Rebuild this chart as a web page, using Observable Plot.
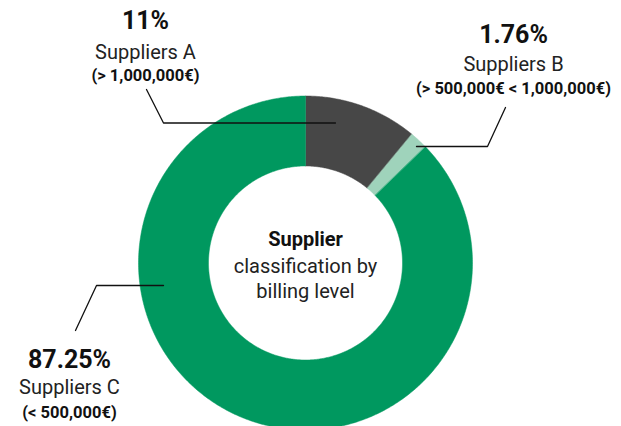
<!DOCTYPE html>
<html>
<head>
<meta charset="utf-8">
<script src="https://cdn.jsdelivr.net/npm/d3@7"></script>
<script src="https://cdn.jsdelivr.net/npm/@observablehq/plot@0.6"></script>
<style>
  html, body { margin: 0; padding: 0; background: #fff; }
  #chart svg { display: block; font-family: Roboto, "Noto Sans", sans-serif; }
</style>
</head>
<body>
<div id="chart"></div>
<script>
// ---- data ----
const categories = ["Suppliers A", "Suppliers B", "Suppliers C"];
const shares = [11, 1.76, 87.25];
const shareLabels = ["11%", "1.76%", "87.25%"];
const rangeLabels = ["(> 1,000,000€)", "(> 500,000€ < 1,000,000€)", "(< 500,000€)"];
const colors = ["#474747", "#9fd3bb", "#00985f"];
const centerTitle = "Supplier";
const centerSubtitle = ["classification by", "billing level"];

// ---- layout ----
const W = 621, H = 426;
const cx = 305, cy = 262.5, rOuter = 167, rInner = 97;
const labelPos = [
  {lx: 145, yPct: 28, yName: 58, yRange: 80},
  {lx: 513, yPct: 42, yName: 70, yRange: 93},
  {lx: 69, yPct: 367, yName: 393, yRange: 417}
];
const leaderPaths = [
  [[146, 89], [163, 122.5], [335, 122.5]],
  [[505, 107], [487, 146], [416, 146]],
  [[75, 330], [96, 285], [163, 285]]
];

// ---- derived ----
const data = categories.map((c, i) => ({category: c, share: shares[i]}));
const arcs = d3.pie().sort(null).value(d => d.share)(data);
const ringPts = [];
arcs.forEach(a => {
  const n = Math.max(4, Math.ceil((a.endAngle - a.startAngle) / 0.01));
  for (let k = 0; k <= n; k++) {
    const t = a.startAngle + (a.endAngle - a.startAngle) * k / n;
    ringPts.push({category: a.data.category, x: cx + rOuter * Math.sin(t), y: cy - rOuter * Math.cos(t)});
  }
  for (let k = n; k >= 0; k--) {
    const t = a.startAngle + (a.endAngle - a.startAngle) * k / n;
    ringPts.push({category: a.data.category, x: cx + rInner * Math.sin(t), y: cy - rInner * Math.cos(t)});
  }
});
const leaderPts = leaderPaths.flatMap((p, i) => p.map(([x, y]) => ({id: categories[i], x, y})));
const labels = categories.map((c, i) => ({
  category: c, pctText: shareLabels[i], rangeText: rangeLabels[i], ...labelPos[i]
}));

const chart = Plot.plot({
  width: W, height: H,
  margin: 0,
  x: {domain: [0, W], range: [0, W], axis: null},
  y: {domain: [0, H], range: [0, H], axis: null},
  color: {domain: categories, range: colors},
  marks: [
    Plot.line(ringPts, {x: "x", y: "y", z: "category", fill: "category", stroke: "category", strokeWidth: 0.5, curve: "linear-closed"}),
    Plot.line(leaderPts, {x: "x", y: "y", z: "id", stroke: "#111", strokeWidth: 1.3}),
    Plot.text(labels, {x: "lx", y: "yPct", text: "pctText", fontSize: 25, fontWeight: "bold", lineAnchor: "bottom", fill: "#111"}),
    Plot.text(labels, {x: "lx", y: "yName", text: "category", fontSize: 20, lineAnchor: "bottom", fill: "#222"}),
    Plot.text(labels, {x: "lx", y: "yRange", text: "rangeText", fontSize: 16.5, fontWeight: "bold", lineAnchor: "bottom", fill: "#111"}),
    Plot.text([centerTitle], {x: cx, y: 245, text: d => d, fontSize: 20, fontWeight: "bold", lineAnchor: "bottom", fill: "#111"}),
    Plot.text(centerSubtitle, {x: cx, y: (d, i) => 272 + i * 25, text: d => d, fontSize: 20, lineAnchor: "bottom", fill: "#222"})
  ]
});
document.getElementById("chart").appendChild(chart);
</script>
</body>
</html>
